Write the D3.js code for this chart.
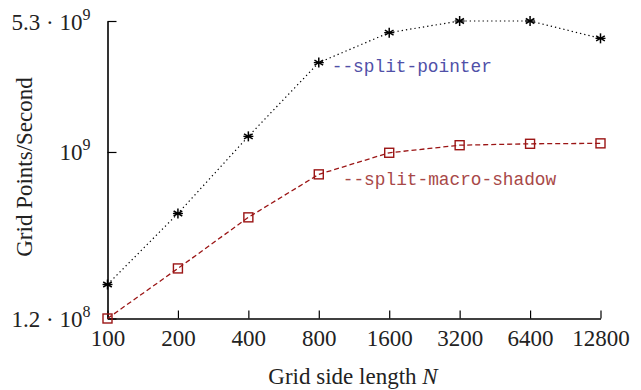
<!DOCTYPE html>
<html><head><meta charset="utf-8">
<script src="https://cdn.jsdelivr.net/npm/d3@7"></script>
<style>body{margin:0;background:#fff}svg{display:block}</style>
</head><body>
<svg id="c" width="641" height="390"></svg>
<script>
const sizes = [100, 200, 400, 800, 1600, 3200, 6400, 12800];
const pointerVals = [1.85e8, 4.57e8, 1.22e9, 3.12e9, 4.57e9, 5.3e9, 5.3e9, 4.25e9];
const shadowVals = [1.2e8, 2.27e8, 4.35e8, 7.52e8, 9.9e8, 1.09e9, 1.11e9, 1.116e9];
const yTicks = [1.2e8, 1e9, 5.3e9];
const yTickLabels = [["1.2 · 10", "8"], ["10", "9"], ["5.3 · 10", "9"]];
const seriesLabels = ["--split-pointer", "--split-macro-shadow"];

const svg = d3.select("#c");
const x = d3.scaleLog().base(2).domain([100, 12800]).range([107.5, 600.5]);
const y = d3.scaleLog().domain([1.2e8, 5.3e9]).range([318.5, 21]);
const serif = "'Liberation Serif','Times New Roman',serif";
const mono = "'Liberation Mono','Courier New',monospace";
const fs = 23;

// axes
const xAxis = d3.axisBottom(x).tickValues(sizes).tickSize(-8).tickSizeOuter(0).tickFormat(d3.format("d")).tickPadding(12);
const gx = svg.append("g").attr("transform", "translate(0,318.5)").call(xAxis);
gx.select(".domain").attr("stroke", "#000").attr("stroke-width", 1.6);
gx.selectAll(".tick line").attr("stroke", "#000").attr("stroke-width", 1.2);
gx.selectAll(".tick text").attr("font-family", serif).attr("font-size", fs).attr("fill", "#222").attr("dy", "0.68em");

const yAxis = d3.axisLeft(y).tickValues(yTicks).tickSize(-9).tickSizeOuter(0).tickFormat(() => "");
const gy = svg.append("g").attr("transform", "translate(107.5,0)").call(yAxis);
gy.select(".domain").attr("stroke", "#000").attr("stroke-width", 1.6);
gy.selectAll(".tick line").attr("stroke", "#000").attr("stroke-width", 1.2);
gy.selectAll(".tick").each(function(d, i) {
  const t = d3.select(this).append("text").attr("x", -17).attr("y", 8)
    .attr("text-anchor", "end").attr("font-family", serif).attr("font-size", fs).attr("fill", "#222");
  t.append("tspan").text(yTickLabels[i][0]);
  t.append("tspan").attr("font-size", 16).attr("dy", -10).text(yTickLabels[i][1]);
});

// axis titles
const xt = svg.append("text").attr("x", 353).attr("y", 384).attr("text-anchor", "middle")
  .attr("font-family", serif).attr("font-size", fs).attr("fill", "#222");
xt.append("tspan").text("Grid side length ");
xt.append("tspan").attr("font-style", "italic").text("N");
svg.append("text").attr("transform", "translate(32,167) rotate(-90)").attr("text-anchor", "middle")
  .attr("font-family", serif).attr("font-size", fs).attr("fill", "#222").text("Grid Points/Second");

const line = d3.line().x(d => x(d[0])).y(d => y(d[1]));
const pData = sizes.map((s, i) => [s, pointerVals[i]]);
const sData = sizes.map((s, i) => [s, shadowVals[i]]);

svg.append("path").datum(pData).attr("d", line).attr("fill", "none").attr("stroke", "#000")
  .attr("stroke-width", 1.2).attr("stroke-dasharray", "1.3,3");
svg.append("path").datum(sData).attr("d", line).attr("fill", "none").attr("stroke", "#9b1515")
  .attr("stroke-width", 1.3).attr("stroke-dasharray", "5,3");

// asterisk markers
const ast = svg.append("g");
pData.forEach(d => {
  const cx = x(d[0]), cy = y(d[1]), r = 5;
  const g = ast.append("g").attr("transform", `translate(${cx},${cy})`);
  [0, 60, 120].forEach(a => {
    const rad = a * Math.PI / 180;
    g.append("line").attr("x1", -r * Math.sin(rad)).attr("y1", -r * Math.cos(rad))
      .attr("x2", r * Math.sin(rad)).attr("y2", r * Math.cos(rad))
      .attr("stroke", "#000").attr("stroke-width", 1.5);
  });
  g.append("line").attr("x1", -r).attr("x2", r).attr("y1", 0).attr("y2", 0).attr("stroke", "#000").attr("stroke-width", 1.3);
});
// square markers
svg.append("g").selectAll("rect").data(sData).join("rect")
  .attr("x", d => x(d[0]) - 4.5).attr("y", d => y(d[1]) - 4.5)
  .attr("width", 9).attr("height", 9).attr("fill", "none")
  .attr("stroke", "#9b1515").attr("stroke-width", 1.4);

// series labels
svg.append("text").attr("x", x(800) + 13).attr("y", 72).attr("font-family", mono)
  .attr("font-size", 17.8).attr("fill", "#5050a8").text(seriesLabels[0]);
svg.append("text").attr("x", x(800) + 24).attr("y", 185).attr("font-family", mono)
  .attr("font-size", 17.8).attr("fill", "#a84848").text(seriesLabels[1]);
</script>
</body></html>
